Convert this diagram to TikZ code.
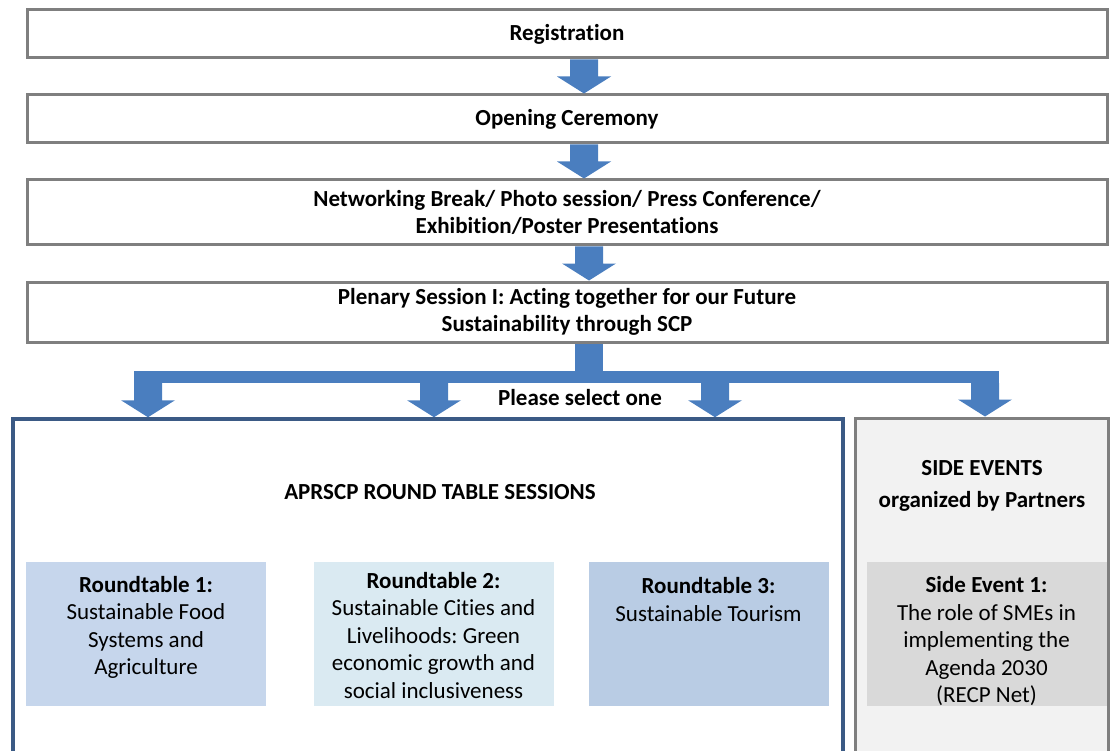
\documentclass[tikz,border=0pt]{standalone}
\usepackage{fontspec}
\setmainfont{Carlito}[Ligatures={TeX,NoCommon}]
\frenchspacing
\usetikzlibrary{calc}
\definecolor{flowblue}{HTML}{4A7EBF}
\definecolor{framegray}{HTML}{7F7F7F}
\definecolor{framenavy}{HTML}{3B5A85}
\definecolor{sidefill}{HTML}{F2F2F2}
\definecolor{rtA}{HTML}{C6D6EC}
\definecolor{rtB}{HTML}{DAEAF2}
\definecolor{rtC}{HTML}{B9CCE4}
\definecolor{seA}{HTML}{D9D9D9}
% block arrow pointing down from #1 to #2
\newcommand{\blockarrow}[2]{%
  \fill[flowblue] ($(#1)+(-14,0)$) -- ($(#2)+(-14,-17)$) -- ($(#2)+(-27,-17)$)
    -- (#2) -- ($(#2)+(27,-17)$) -- ($(#2)+(14,-17)$) -- ($(#1)+(14,0)$) -- cycle;}
\begin{document}
\begin{tikzpicture}[x=1pt, y=-1pt,
    txt/.style={font=\fontsize{23}{27.5}\selectfont, align=center, inner sep=0pt},
    stage/.style={txt, font=\fontsize{23}{27.5}\selectfont\bfseries, draw=framegray,
        line width=3pt, fill=white, minimum width=1080, minimum height=48},
    rtcard/.style={minimum width=240, minimum height=144, inner sep=0pt}]
    \useasboundingbox (0,0) rectangle (1110,751);
    \clip (0,0) rectangle (1110,751);
    % program stages
    \node[stage] (reg) at (567,34) {Registration};
    \node[stage] (open) at (567,119) {Opening Ceremony};
    \node[stage, minimum height=65] (net) at (567,212.5)
        {Networking Break/ Photo session/ Press Conference/\\Exhibition/Poster Presentations};
    \node[stage, minimum height=60] (plen) at (567,312)
        {Plenary Session I: Acting together for our Future\\Sustainability through SCP};
    \blockarrow{reg.south -| 584,0}{open.north -| 584,0}
    \blockarrow{open.south -| 584,0}{net.north -| 584,0}
    \blockarrow{net.south -| 589,0}{plen.north -| 589,0}
    % parallel tracks
    \node[draw=framenavy, line width=3.5pt, minimum width=830, minimum height=342] (rtbox) at (428,590) {};
    \node[draw=framegray, line width=3pt, fill=sidefill, minimum width=253, minimum height=343] (sidebox) at (981.5,589.5) {};
    % fork
    \coordinate (fork) at (589,377);
    \fill[flowblue] ($(plen.south -| fork)+(-14,0)$) rectangle ($(fork)+(14,0)$);
    \fill[flowblue] (134,371) rectangle (999,383);
    \foreach \x/\t in {148/rtbox, 434/rtbox, 715/rtbox, 985/sidebox}
        \blockarrow{\x,383}{\x,0 |- \t.north};
    \node[txt, font=\fontsize{23}{27.5}\selectfont\bfseries] (pick) at (580,398) {Please select one};
    \node[txt, font=\fontsize{23}{27.5}\selectfont\bfseries] (rttitle) at (440,492) {APRSCP ROUND TABLE SESSIONS};
    \node[txt, font=\fontsize{23}{27.5}\selectfont\bfseries] (sidetitle) at (982,486) {SIDE EVENTS\\[4pt]organized by Partners};
    % sessions
    \node[rtcard, fill=rtA] (rt1) at (146,634) {};
    \node[rtcard, fill=rtB] (rt2) at (433.5,634) {};
    \node[rtcard, fill=rtC] (rt3) at (708.5,634) {};
    \node[rtcard, fill=seA] (se1) at (986.5,634) {};
    \node[txt] (rt1txt) at (146,627.5) {\textbf{Roundtable 1:}\\Sustainable Food\\Systems and\\Agriculture};
    \node[txt] (rt2txt) at (433.5,635.5) {\textbf{Roundtable 2:}\\Sustainable Cities and\\Livelihoods: Green\\economic growth and\\social inclusiveness};
    \node[txt] (rt3txt) at (708.5,599.5) {\textbf{Roundtable 3:}\\Sustainable Tourism};
    \node[txt] (se1txt) at (986.5,641.5) {\textbf{Side Event 1:}\\The role of SMEs in\\implementing the\\Agenda 2030\\(RECP Net)};
\end{tikzpicture}
\end{document}
